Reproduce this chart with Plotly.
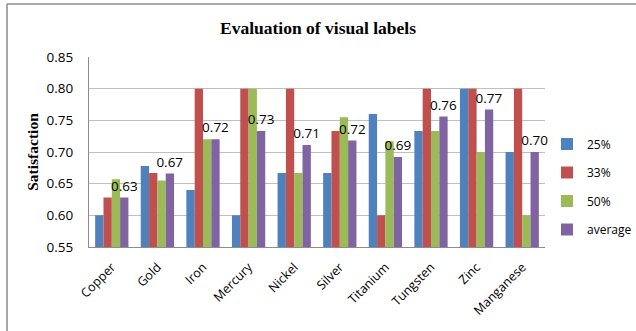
import plotly.graph_objects as go

# Satisfaction scores per metal, by label coverage level
categories = ["Copper", "Gold", "Iron", "Mercury", "Nickel", "Silver",
              "Titanium", "Tungsten", "Zinc", "Manganese"]
pct25 = [0.600, 0.678, 0.640, 0.600, 0.667, 0.667, 0.760, 0.733, 0.800, 0.700]
pct33 = [0.628, 0.667, 0.800, 0.800, 0.800, 0.733, 0.600, 0.800, 0.800, 0.800]
pct50 = [0.657, 0.655, 0.720, 0.800, 0.667, 0.755, 0.717, 0.733, 0.700, 0.600]
average = [0.628, 0.666, 0.720, 0.733, 0.711, 0.718, 0.692, 0.756, 0.767, 0.700]

series = [
    ("25%", pct25, "#4F81BD"),
    ("33%", pct33, "#C0504D"),
    ("50%", pct50, "#9BBB59"),
    ("average", average, "#8064A2"),
]

fig = go.Figure()
for name, vals, color in series:
    kw = {}
    if name == "average":
        kw = dict(texttemplate="%{y:.2f}", textposition="outside",
                  textfont=dict(family="Open Sans", size=13.5, color="#000000"),
                  cliponaxis=False, constraintext="none")
    fig.add_trace(go.Bar(
        x=categories, y=vals, name=name, marker=dict(color=color, line=dict(width=0)),
        legendgroup=name, **kw))

# plot area in pixels: x 89..545, y 57..247
def px_x(px):
    return (px - 89) / 456.0

def px_y(py):
    return (247 - py) / 190.0

fig.update_layout(
    width=636, height=331,
    margin=dict(l=89, r=91, t=57, b=84, autoexpand=False),
    paper_bgcolor="white", plot_bgcolor="white",
    barmode="group", bargap=0.27, bargroupgap=0,
    title=dict(text="<b>Evaluation of visual labels</b>",
               font=dict(family="Liberation Serif", size=17.5, color="#000000"),
               x=0.5, xanchor="center", y=1 - 28 / 331, yanchor="middle"),
    font=dict(family="Open Sans", size=12.5, color="#000000"),
    showlegend=True,
    legend=dict(x=px_x(547), xanchor="left", y=px_y(187), yanchor="middle",
                traceorder="grouped", tracegroupgap=9.5,
                font=dict(family="Open Sans", size=12, color="#000000"),
                itemwidth=30, bgcolor="rgba(0,0,0,0)"),
    shapes=[
        dict(type="line", xref="paper", yref="paper",
             x0=px_x(7), x1=px_x(636), y0=px_y(4), y1=px_y(4),
             line=dict(color="#8C8C8C", width=1.5)),
        dict(type="line", xref="paper", yref="paper",
             x0=px_x(7), x1=px_x(7), y0=px_y(4), y1=px_y(331),
             line=dict(color="#8C8C8C", width=1.5)),
    ],
)

fig.update_yaxes(
    range=[0.55, 0.85], dtick=0.05, tickformat=".2f",
    showgrid=True, gridcolor="#BFBFBF", gridwidth=1,
    showline=True, linecolor="#8C8C8C", linewidth=1,
    ticks="", ticklen=0, ticklabelstandoff=12,
    tickfont=dict(family="Open Sans", size=13.5, color="#000000"),
    title=dict(text="<b>Satisfaction</b>",
               font=dict(family="Liberation Serif", size=15.5, color="#000000"),
               standoff=4),
    zeroline=False,
)
fig.update_xaxes(
    tickangle=-45, showline=True, linecolor="#8C8C8C", linewidth=1,
    tickfont=dict(family="Open Sans", size=12.5, color="#000000"),
    ticks="", showgrid=False, ticklabelstandoff=7,
)

fig.write_html("out.html", config={"displayModeBar": False})
